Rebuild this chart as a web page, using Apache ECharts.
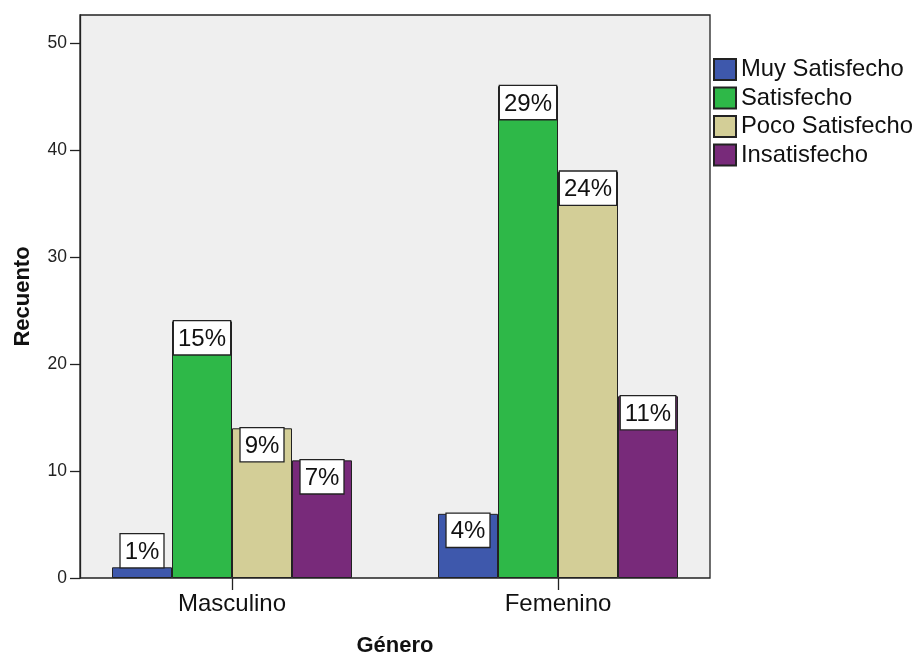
<!DOCTYPE html>
<html>
<head>
<meta charset="utf-8">
<script src="https://cdn.jsdelivr.net/npm/echarts@6/dist/echarts.min.js"></script>
<style>
  html, body { margin: 0; padding: 0; background: #ffffff; }
  #chart { width: 920px; height: 653px; }
</style>
</head>
<body>
<div id="chart"></div>
<script>
// Satisfaction counts by gender
const categories = ['Masculino', 'Femenino'];
const seriesNames = ['Muy Satisfecho', 'Satisfecho', 'Poco Satisfecho', 'Insatisfecho'];
const muySatisfecho = [1, 6];
const satisfecho = [24, 46];
const pocoSatisfecho = [14, 38];
const insatisfecho = [11, 17];
const yTicks = [0, 10, 20, 30, 40, 50];

const seriesValues = [muySatisfecho, satisfecho, pocoSatisfecho, insatisfecho];
const colors = ['#3e58ac', '#2eb848', '#d3ce97', '#782a7a'];
const FONT = "'Liberation Sans', Arial, Helvetica, sans-serif";
const Y_MAX = 52.65;

const total = seriesValues.reduce((s, arr) => s + arr.reduce((a, b) => a + b, 0), 0);

const labelBox = {
  show: true,
  formatter: p => Math.round(p.value / total * 100) + '%',
  fontFamily: FONT,
  fontSize: 24,
  color: '#111',
  backgroundColor: '#ffffff',
  borderColor: '#222',
  borderWidth: 1.3,
  padding: [6, 4, 3, 4],
  position: 'insideTop',
  distance: 0
};

const series = seriesValues.map((vals, i) => ({
  name: seriesNames[i],
  type: 'bar',
  xAxisIndex: 1,
  yAxisIndex: 1,
  barWidth: 60,
  barGap: '0%',
  itemStyle: { color: colors[i], borderColor: '#222', borderWidth: 1 },
  label: labelBox,
  data: vals.map(v => {
    // short bars carry their label above the bar
    const item = { value: v };
    if (v < 3) item.label = { position: 'top', distance: 0 };
    return item;
  })
}));

const chart = echarts.init(document.getElementById('chart'), null, { renderer: 'canvas' });
chart.setOption({
  animation: false,
  backgroundColor: '#ffffff',
  textStyle: { fontFamily: FONT },
  legend: {
    data: seriesNames,
    orient: 'vertical',
    left: 713,
    top: 57.5,
    padding: 0,
    icon: 'rect',
    itemWidth: 22,
    itemHeight: 21,
    itemGap: 4.5,
    textStyle: { fontFamily: FONT, fontSize: 23.8, color: '#111' }
  },
  grid: [
    {
      left: 80, top: 15, width: 630, height: 563, outerBoundsMode: 'none', containLabel: false,
      show: true, backgroundColor: '#efefef', borderColor: '#222', borderWidth: 1.3
    },
    { left: 69, top: 15, width: 652, height: 563, outerBoundsMode: 'none', containLabel: false }
  ],
  xAxis: [
    {
      gridIndex: 0, type: 'category', data: categories,
      axisLine: { show: false }, axisTick: { show: false }, axisLabel: { show: false },
      name: 'Género', nameLocation: 'middle', nameGap: 57,
      nameTextStyle: { fontFamily: FONT, fontSize: 22, fontWeight: 'bold', color: '#111' }
    },
    {
      gridIndex: 1, type: 'category', data: categories,
      axisLine: { show: false },
      axisTick: { show: true, alignWithLabel: true, length: 12, lineStyle: { color: '#222', width: 1.3 } },
      axisLabel: { fontFamily: FONT, fontSize: 24, color: '#111', margin: 14 }
    }
  ],
  yAxis: [
    {
      gridIndex: 0, type: 'value', min: 0, max: Y_MAX, interval: 10,
      axisLine: { show: true, lineStyle: { color: '#222', width: 1.3 } },
      axisTick: { show: true, length: 10, customValues: yTicks, lineStyle: { color: '#222', width: 1.3 } },
      axisLabel: { fontFamily: FONT, fontSize: 17.5, color: '#222', margin: 13, customValues: yTicks },
      splitLine: { show: false },
      name: 'Recuento', nameLocation: 'middle', nameGap: 46,
      nameTextStyle: { fontFamily: FONT, fontSize: 22, fontWeight: 'bold', color: '#111' }
    },
    {
      gridIndex: 1, type: 'value', min: 0, max: Y_MAX, interval: 10, show: false,
      splitLine: { show: false }
    }
  ],
  series: series
});
</script>
</body>
</html>
